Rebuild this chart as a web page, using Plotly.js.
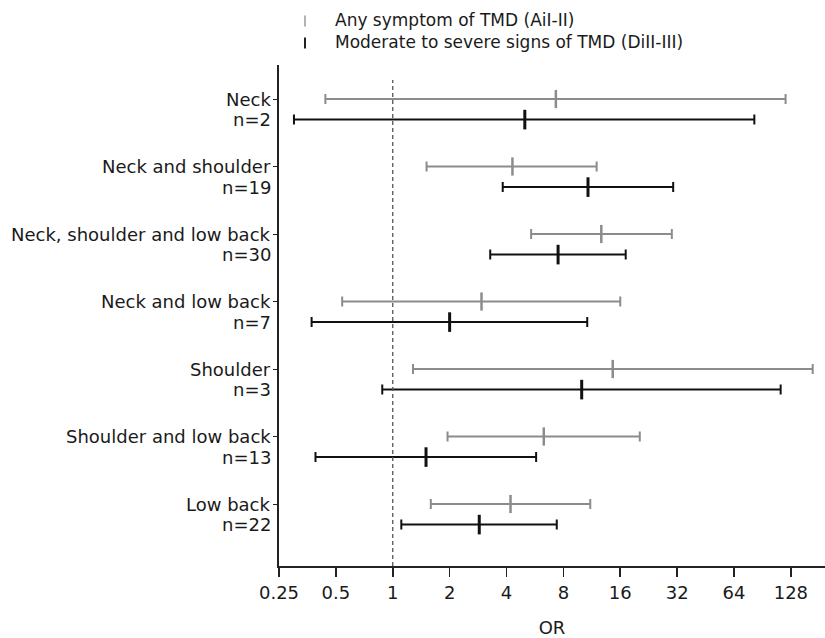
<!DOCTYPE html>
<html>
<head>
<meta charset="utf-8">
<script src="https://cdn.plot.ly/plotly-3.0.1.min.js"></script>
<style>html,body{margin:0;padding:0;background:#fff;}#chart{width:825px;height:638px;}</style>
</head>
<body>
<div id="chart"></div>
<script>
// Categories (top to bottom) and sample sizes
var categories = ["Neck", "Neck and shoulder", "Neck, shoulder and low back", "Neck and low back", "Shoulder", "Shoulder and low back", "Low back"];
var nLabels = ["n=2", "n=19", "n=30", "n=7", "n=3", "n=13", "n=22"];

// Any symptom of TMD (AiI-II): OR and 95% CI
var anyOR = [7.3, 4.3, 12.7, 2.95, 14.6, 6.3, 4.2];
var anyLo = [0.44, 1.51, 5.4, 0.54, 1.28, 1.95, 1.59];
var anyHi = [120, 12.0, 30, 16.0, 167, 20.3, 11.1];

// Moderate to severe signs of TMD (DiII-III): OR and 95% CI
var modOR = [5.0, 10.8, 7.5, 2.0, 10.0, 1.5, 2.87];
var modLo = [0.30, 3.82, 3.28, 0.372, 0.88, 0.39, 1.11];
var modHi = [82, 30.5, 17.1, 10.7, 113, 5.74, 7.38];

var xTicks = [0.25, 0.5, 1, 2, 4, 8, 16, 32, 64, 128];
var xTickText = ["0.25", "0.5", "1", "2", "4", "8", "16", "32", "64", "128"];

var seriesNames = ["Any symptom of TMD (AiI-II)", "Moderate to severe signs of TMD (DiII-III)"];

var nCat = categories.length;
var offset = 0.305;
var yAny = categories.map(function(c, i){ return nCat - i; });
var yMod = yAny.map(function(v){ return v - offset; });

function diff(a, b){ return a.map(function(v, i){ return v - b[i]; }); }

var FONT = "DejaVu Sans, Verdana, sans-serif";
var GREY = "#8c8c8c";
var BLACK = "#111111";
var TXT = "#1a1a1a";

var traces = [
  {
    type: "scatter", mode: "markers", name: seriesNames[0],
    x: anyOR, y: yAny, cliponaxis: false,
    marker: {symbol: "line-ns", size: 13, line: {width: 2.5, color: GREY}, color: GREY},
    error_x: {type: "data", symmetric: false, array: diff(anyHi, anyOR), arrayminus: diff(anyOR, anyLo),
              color: GREY, thickness: 2, width: 5},
    showlegend: false, hoverinfo: "x+y"
  },
  {
    type: "scatter", mode: "markers", name: seriesNames[1],
    x: modOR, y: yMod, cliponaxis: false,
    marker: {symbol: "line-ns", size: 14, line: {width: 3, color: BLACK}, color: BLACK},
    error_x: {type: "data", symmetric: false, array: diff(modHi, modOR), arrayminus: diff(modOR, modLo),
              color: BLACK, thickness: 2, width: 5},
    showlegend: false, hoverinfo: "x+y"
  }
];

var W = 825, H = 638;
var mL = 279, mR = 0, mT = 65, mB = 72;
var pw = W - mL - mR, ph = H - mT - mB;
function px2x(p){ return (p - mL) / pw; }
function px2y(p){ return (H - mB - p) / ph; }

var annotations = [];
categories.forEach(function(c, i){
  annotations.push({xref: "paper", yref: "y", x: 0, y: yAny[i], text: c, showarrow: false,
    xanchor: "right", yanchor: "middle", xshift: -6, font: {family: FONT, size: 18, color: TXT}});
  annotations.push({xref: "paper", yref: "y", x: 0, y: yMod[i], text: nLabels[i], showarrow: false,
    xanchor: "right", yanchor: "middle", xshift: -6, font: {family: FONT, size: 18, color: TXT}});
});
// legend text (one block, two lines)
annotations.push({xref: "paper", yref: "paper", x: px2x(334), y: px2y(31.5), text: seriesNames.join("<br>"),
  showarrow: false, align: "left", xanchor: "left", yanchor: "middle", borderpad: 0,
  font: {family: FONT, size: 17, color: TXT}});

var shapes = [
  {type: "line", xref: "x", yref: "paper", x0: 1, x1: 1, y0: 0, y1: px2y(80),
   line: {color: "#555", width: 1.3, dash: "4px,3px"}},
  {type: "line", xref: "paper", yref: "paper", x0: px2x(305), x1: px2x(305), y0: px2y(15.5), y1: px2y(26.5),
   line: {color: "#999", width: 1.5}},
  {type: "line", xref: "paper", yref: "paper", x0: px2x(305), x1: px2x(305), y0: px2y(37.5), y1: px2y(48.5),
   line: {color: "#222", width: 2}}
];

var layout = {
  width: W, height: H,
  margin: {l: mL, r: mR, t: mT, b: mB, pad: 0},
  paper_bgcolor: "#fff", plot_bgcolor: "#fff",
  font: {family: FONT, size: 18, color: TXT},
  showlegend: false,
  xaxis: {
    type: "log", range: [Math.log10(0.25), Math.log10(194)],
    tickvals: xTicks, ticktext: xTickText,
    ticks: "outside", ticklen: 9, tickwidth: 1.6, tickcolor: "#222",
    showline: true, linewidth: 2, linecolor: "#222",
    showgrid: false, zeroline: false,
    tickfont: {family: FONT, size: 18, color: TXT},
    title: {text: "OR", standoff: 22, font: {family: FONT, size: 18, color: TXT}},
    automargin: false
  },
  yaxis: {
    range: [0.0815, 7.504],
    tickvals: yAny, ticktext: categories.map(function(){ return ""; }),
    ticks: "outside", ticklen: 4, tickwidth: 1, tickcolor: "#222",
    showticklabels: false,
    showline: true, linewidth: 2, linecolor: "#222",
    showgrid: false, zeroline: false, automargin: false
  },
  annotations: annotations,
  shapes: shapes
};

Plotly.newPlot("chart", traces, layout, {displayModeBar: false, staticPlot: true});
</script>
</body>
</html>
